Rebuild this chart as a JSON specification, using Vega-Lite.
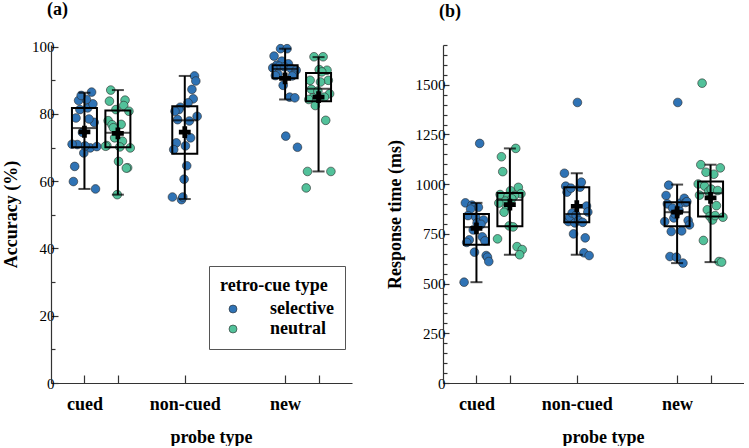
{
"$schema": "https://vega.github.io/schema/vega-lite/v6.json",
"padding": {"left": 2, "top": 0, "right": 0, "bottom": 0},
"spacing": 34,
"config": {
  "view": {"stroke": null},
  "axis": {"labelFontSize": 15, "titleFontSize": 18, "titleFontWeight": "bold", "labelColor": "black", "titleColor": "black", "domainColor": "#333", "tickColor": "#333", "grid": false, "domainWidth": 1.2, "tickWidth": 1.2, "labelOverlap": false, "labelFlush": false}
},
"datasets": {
"accPts": [
{"condition":"cued-selective","cue":"selective","subject":19,"accuracy":57.7},
{"condition":"cued-selective","cue":"selective","subject":2,"accuracy":59.9},
{"condition":"cued-selective","cue":"selective","subject":3,"accuracy":64.4},
{"condition":"cued-selective","cue":"selective","subject":10,"accuracy":68.4},
{"condition":"cued-selective","cue":"selective","subject":15,"accuracy":69.9},
{"condition":"cued-selective","cue":"selective","subject":20,"accuracy":70.3},
{"condition":"cued-selective","cue":"selective","subject":11,"accuracy":70.5},
{"condition":"cued-selective","cue":"selective","subject":5,"accuracy":70.9},
{"condition":"cued-selective","cue":"selective","subject":1,"accuracy":71.0},
{"condition":"cued-selective","cue":"selective","subject":9,"accuracy":74.5},
{"condition":"cued-selective","cue":"selective","subject":18,"accuracy":77.5},
{"condition":"cued-selective","cue":"selective","subject":14,"accuracy":78.5},
{"condition":"cued-selective","cue":"selective","subject":4,"accuracy":78.8},
{"condition":"cued-selective","cue":"selective","subject":7,"accuracy":81.3},
{"condition":"cued-selective","cue":"selective","subject":13,"accuracy":81.8},
{"condition":"cued-selective","cue":"selective","subject":17,"accuracy":83.0},
{"condition":"cued-selective","cue":"selective","subject":6,"accuracy":84.0},
{"condition":"cued-selective","cue":"selective","subject":12,"accuracy":84.3},
{"condition":"cued-selective","cue":"selective","subject":8,"accuracy":85.5},
{"condition":"cued-selective","cue":"selective","subject":16,"accuracy":86.5},
{"condition":"cued-neutral","cue":"neutral","subject":5,"accuracy":87.1},
{"condition":"cued-neutral","cue":"neutral","subject":16,"accuracy":84.1},
{"condition":"cued-neutral","cue":"neutral","subject":4,"accuracy":83.8},
{"condition":"cued-neutral","cue":"neutral","subject":15,"accuracy":82.5},
{"condition":"cued-neutral","cue":"neutral","subject":9,"accuracy":81.3},
{"condition":"cued-neutral","cue":"neutral","subject":19,"accuracy":80.8},
{"condition":"cued-neutral","cue":"neutral","subject":3,"accuracy":78.0},
{"condition":"cued-neutral","cue":"neutral","subject":13,"accuracy":76.9},
{"condition":"cued-neutral","cue":"neutral","subject":6,"accuracy":76.8},
{"condition":"cued-neutral","cue":"neutral","subject":7,"accuracy":75.9},
{"condition":"cued-neutral","cue":"neutral","subject":8,"accuracy":72.9},
{"condition":"cued-neutral","cue":"neutral","subject":14,"accuracy":71.9},
{"condition":"cued-neutral","cue":"neutral","subject":2,"accuracy":70.6},
{"condition":"cued-neutral","cue":"neutral","subject":1,"accuracy":70.4},
{"condition":"cued-neutral","cue":"neutral","subject":12,"accuracy":70.2},
{"condition":"cued-neutral","cue":"neutral","subject":20,"accuracy":69.9},
{"condition":"cued-neutral","cue":"neutral","subject":11,"accuracy":65.9},
{"condition":"cued-neutral","cue":"neutral","subject":18,"accuracy":64.0},
{"condition":"cued-neutral","cue":"neutral","subject":17,"accuracy":63.9},
{"condition":"cued-neutral","cue":"neutral","subject":10,"accuracy":56.0},
{"condition":"non-cued-selective","cue":"selective","subject":18,"accuracy":91.3},
{"condition":"non-cued-selective","cue":"selective","subject":19,"accuracy":89.8},
{"condition":"non-cued-selective","cue":"selective","subject":16,"accuracy":87.3},
{"condition":"non-cued-selective","cue":"selective","subject":17,"accuracy":84.5},
{"condition":"non-cued-selective","cue":"selective","subject":13,"accuracy":83.3},
{"condition":"non-cued-selective","cue":"selective","subject":7,"accuracy":82.0},
{"condition":"non-cued-selective","cue":"selective","subject":6,"accuracy":81.3},
{"condition":"non-cued-selective","cue":"selective","subject":3,"accuracy":80.8},
{"condition":"non-cued-selective","cue":"selective","subject":20,"accuracy":79.3},
{"condition":"non-cued-selective","cue":"selective","subject":5,"accuracy":78.3},
{"condition":"non-cued-selective","cue":"selective","subject":14,"accuracy":77.9},
{"condition":"non-cued-selective","cue":"selective","subject":15,"accuracy":72.9},
{"condition":"non-cued-selective","cue":"selective","subject":4,"accuracy":71.4},
{"condition":"non-cued-selective","cue":"selective","subject":11,"accuracy":70.5},
{"condition":"non-cued-selective","cue":"selective","subject":2,"accuracy":69.4},
{"condition":"non-cued-selective","cue":"selective","subject":12,"accuracy":64.6},
{"condition":"non-cued-selective","cue":"selective","subject":10,"accuracy":60.6},
{"condition":"non-cued-selective","cue":"selective","subject":1,"accuracy":55.3},
{"condition":"non-cued-selective","cue":"selective","subject":8,"accuracy":54.5},
{"condition":"non-cued-selective","cue":"selective","subject":9,"accuracy":55.3},
{"condition":"new-selective","cue":"selective","subject":7,"accuracy":99.4},
{"condition":"new-selective","cue":"selective","subject":12,"accuracy":99.4},
{"condition":"new-selective","cue":"selective","subject":2,"accuracy":97.2},
{"condition":"new-selective","cue":"selective","subject":8,"accuracy":95.7},
{"condition":"new-selective","cue":"selective","subject":13,"accuracy":94.9},
{"condition":"new-selective","cue":"selective","subject":4,"accuracy":94.5},
{"condition":"new-selective","cue":"selective","subject":6,"accuracy":94.2},
{"condition":"new-selective","cue":"selective","subject":10,"accuracy":94.0},
{"condition":"new-selective","cue":"selective","subject":1,"accuracy":93.7},
{"condition":"new-selective","cue":"selective","subject":15,"accuracy":93.5},
{"condition":"new-selective","cue":"selective","subject":19,"accuracy":93.0},
{"condition":"new-selective","cue":"selective","subject":5,"accuracy":91.8},
{"condition":"new-selective","cue":"selective","subject":17,"accuracy":91.6},
{"condition":"new-selective","cue":"selective","subject":3,"accuracy":91.4},
{"condition":"new-selective","cue":"selective","subject":16,"accuracy":91.3},
{"condition":"new-selective","cue":"selective","subject":9,"accuracy":88.5},
{"condition":"new-selective","cue":"selective","subject":14,"accuracy":85.0},
{"condition":"new-selective","cue":"selective","subject":18,"accuracy":84.8},
{"condition":"new-selective","cue":"selective","subject":11,"accuracy":73.4},
{"condition":"new-selective","cue":"selective","subject":20,"accuracy":70.1},
{"condition":"new-neutral","cue":"neutral","subject":7,"accuracy":97.0},
{"condition":"new-neutral","cue":"neutral","subject":14,"accuracy":97.0},
{"condition":"new-neutral","cue":"neutral","subject":11,"accuracy":93.2},
{"condition":"new-neutral","cue":"neutral","subject":17,"accuracy":93.0},
{"condition":"new-neutral","cue":"neutral","subject":13,"accuracy":92.5},
{"condition":"new-neutral","cue":"neutral","subject":4,"accuracy":90.0},
{"condition":"new-neutral","cue":"neutral","subject":18,"accuracy":90.0},
{"condition":"new-neutral","cue":"neutral","subject":12,"accuracy":89.5},
{"condition":"new-neutral","cue":"neutral","subject":5,"accuracy":87.3},
{"condition":"new-neutral","cue":"neutral","subject":10,"accuracy":86.8},
{"condition":"new-neutral","cue":"neutral","subject":19,"accuracy":86.0},
{"condition":"new-neutral","cue":"neutral","subject":15,"accuracy":85.0},
{"condition":"new-neutral","cue":"neutral","subject":6,"accuracy":84.8},
{"condition":"new-neutral","cue":"neutral","subject":3,"accuracy":84.3},
{"condition":"new-neutral","cue":"neutral","subject":9,"accuracy":84.1},
{"condition":"new-neutral","cue":"neutral","subject":8,"accuracy":82.5},
{"condition":"new-neutral","cue":"neutral","subject":16,"accuracy":78.1},
{"condition":"new-neutral","cue":"neutral","subject":2,"accuracy":62.9},
{"condition":"new-neutral","cue":"neutral","subject":20,"accuracy":62.9},
{"condition":"new-neutral","cue":"neutral","subject":1,"accuracy":58.0}
],
"accBox": [
{"condition":"cued-selective","lower":57.7,"q1":70.1,"median":75.8,"q3":81.8,"upper":86.3,"mean":74.7},
{"condition":"cued-neutral","lower":56.0,"q1":70.1,"median":74.4,"q3":81.0,"upper":87.1,"mean":74.2},
{"condition":"non-cued-selective","lower":54.7,"q1":68.2,"median":78.1,"q3":82.3,"upper":91.3,"mean":74.6},
{"condition":"new-selective","lower":84.3,"q1":90.6,"median":93.4,"q3":94.5,"upper":99.4,"mean":90.6},
{"condition":"new-neutral","lower":62.9,"q1":83.8,"median":87.5,"q3":92.2,"upper":96.9,"mean":85.0}
],
"rtPts": [
{"condition":"cued-selective","cue":"selective","subject":13,"rt":1205},
{"condition":"cued-selective","cue":"selective","subject":2,"rt":906},
{"condition":"cued-selective","cue":"selective","subject":7,"rt":895},
{"condition":"cued-selective","cue":"selective","subject":12,"rt":884},
{"condition":"cued-selective","cue":"selective","subject":6,"rt":875},
{"condition":"cued-selective","cue":"selective","subject":4,"rt":842},
{"condition":"cued-selective","cue":"selective","subject":10,"rt":834},
{"condition":"cued-selective","cue":"selective","subject":16,"rt":820},
{"condition":"cued-selective","cue":"selective","subject":11,"rt":805},
{"condition":"cued-selective","cue":"selective","subject":14,"rt":798},
{"condition":"cued-selective","cue":"selective","subject":8,"rt":770},
{"condition":"cued-selective","cue":"selective","subject":15,"rt":735},
{"condition":"cued-selective","cue":"selective","subject":5,"rt":720},
{"condition":"cued-selective","cue":"selective","subject":17,"rt":715},
{"condition":"cued-selective","cue":"selective","subject":3,"rt":707},
{"condition":"cued-selective","cue":"selective","subject":9,"rt":658},
{"condition":"cued-selective","cue":"selective","subject":18,"rt":641},
{"condition":"cued-selective","cue":"selective","subject":19,"rt":633},
{"condition":"cued-selective","cue":"selective","subject":20,"rt":611},
{"condition":"cued-selective","cue":"selective","subject":1,"rt":507},
{"condition":"cued-neutral","cue":"neutral","subject":15,"rt":1180},
{"condition":"cued-neutral","cue":"neutral","subject":4,"rt":1138},
{"condition":"cued-neutral","cue":"neutral","subject":5,"rt":1063},
{"condition":"cued-neutral","cue":"neutral","subject":17,"rt":984},
{"condition":"cued-neutral","cue":"neutral","subject":11,"rt":967},
{"condition":"cued-neutral","cue":"neutral","subject":19,"rt":952},
{"condition":"cued-neutral","cue":"neutral","subject":3,"rt":948},
{"condition":"cued-neutral","cue":"neutral","subject":14,"rt":943},
{"condition":"cued-neutral","cue":"neutral","subject":9,"rt":938},
{"condition":"cued-neutral","cue":"neutral","subject":12,"rt":927},
{"condition":"cued-neutral","cue":"neutral","subject":7,"rt":915},
{"condition":"cued-neutral","cue":"neutral","subject":2,"rt":905},
{"condition":"cued-neutral","cue":"neutral","subject":8,"rt":880},
{"condition":"cued-neutral","cue":"neutral","subject":6,"rt":859},
{"condition":"cued-neutral","cue":"neutral","subject":10,"rt":790},
{"condition":"cued-neutral","cue":"neutral","subject":13,"rt":785},
{"condition":"cued-neutral","cue":"neutral","subject":1,"rt":725},
{"condition":"cued-neutral","cue":"neutral","subject":16,"rt":686},
{"condition":"cued-neutral","cue":"neutral","subject":20,"rt":671},
{"condition":"cued-neutral","cue":"neutral","subject":18,"rt":645},
{"condition":"non-cued-selective","cue":"selective","subject":1,"rt":1055},
{"condition":"non-cued-selective","cue":"selective","subject":2,"rt":990},
{"condition":"non-cued-selective","cue":"selective","subject":3,"rt":960},
{"condition":"non-cued-selective","cue":"selective","subject":4,"rt":812},
{"condition":"non-cued-selective","cue":"selective","subject":5,"rt":835},
{"condition":"non-cued-selective","cue":"selective","subject":6,"rt":980},
{"condition":"non-cued-selective","cue":"selective","subject":7,"rt":855},
{"condition":"non-cued-selective","cue":"selective","subject":8,"rt":750},
{"condition":"non-cued-selective","cue":"selective","subject":9,"rt":805},
{"condition":"non-cued-selective","cue":"selective","subject":10,"rt":845},
{"condition":"non-cued-selective","cue":"selective","subject":11,"rt":1411},
{"condition":"non-cued-selective","cue":"selective","subject":12,"rt":818},
{"condition":"non-cued-selective","cue":"selective","subject":13,"rt":985},
{"condition":"non-cued-selective","cue":"selective","subject":14,"rt":1010},
{"condition":"non-cued-selective","cue":"selective","subject":15,"rt":808},
{"condition":"non-cued-selective","cue":"selective","subject":16,"rt":655},
{"condition":"non-cued-selective","cue":"selective","subject":17,"rt":730},
{"condition":"non-cued-selective","cue":"selective","subject":18,"rt":890},
{"condition":"non-cued-selective","cue":"selective","subject":19,"rt":860},
{"condition":"non-cued-selective","cue":"selective","subject":20,"rt":641},
{"condition":"new-selective","cue":"selective","subject":1,"rt":812},
{"condition":"new-selective","cue":"selective","subject":2,"rt":943},
{"condition":"new-selective","cue":"selective","subject":3,"rt":901},
{"condition":"new-selective","cue":"selective","subject":4,"rt":995},
{"condition":"new-selective","cue":"selective","subject":5,"rt":636},
{"condition":"new-selective","cue":"selective","subject":6,"rt":762},
{"condition":"new-selective","cue":"selective","subject":7,"rt":880},
{"condition":"new-selective","cue":"selective","subject":8,"rt":830},
{"condition":"new-selective","cue":"selective","subject":9,"rt":850},
{"condition":"new-selective","cue":"selective","subject":10,"rt":633},
{"condition":"new-selective","cue":"selective","subject":11,"rt":1411},
{"condition":"new-selective","cue":"selective","subject":12,"rt":868},
{"condition":"new-selective","cue":"selective","subject":13,"rt":905},
{"condition":"new-selective","cue":"selective","subject":14,"rt":765},
{"condition":"new-selective","cue":"selective","subject":15,"rt":603},
{"condition":"new-selective","cue":"selective","subject":16,"rt":929},
{"condition":"new-selective","cue":"selective","subject":17,"rt":908},
{"condition":"new-selective","cue":"selective","subject":18,"rt":912},
{"condition":"new-selective","cue":"selective","subject":19,"rt":817},
{"condition":"new-selective","cue":"selective","subject":20,"rt":795},
{"condition":"new-neutral","cue":"neutral","subject":1,"rt":1001},
{"condition":"new-neutral","cue":"neutral","subject":2,"rt":945},
{"condition":"new-neutral","cue":"neutral","subject":3,"rt":1098},
{"condition":"new-neutral","cue":"neutral","subject":4,"rt":1508},
{"condition":"new-neutral","cue":"neutral","subject":5,"rt":717},
{"condition":"new-neutral","cue":"neutral","subject":6,"rt":990},
{"condition":"new-neutral","cue":"neutral","subject":7,"rt":1060},
{"condition":"new-neutral","cue":"neutral","subject":8,"rt":871},
{"condition":"new-neutral","cue":"neutral","subject":9,"rt":963},
{"condition":"new-neutral","cue":"neutral","subject":10,"rt":838},
{"condition":"new-neutral","cue":"neutral","subject":11,"rt":975},
{"condition":"new-neutral","cue":"neutral","subject":12,"rt":820},
{"condition":"new-neutral","cue":"neutral","subject":13,"rt":1050},
{"condition":"new-neutral","cue":"neutral","subject":14,"rt":842},
{"condition":"new-neutral","cue":"neutral","subject":15,"rt":892},
{"condition":"new-neutral","cue":"neutral","subject":16,"rt":968},
{"condition":"new-neutral","cue":"neutral","subject":17,"rt":611},
{"condition":"new-neutral","cue":"neutral","subject":18,"rt":1082},
{"condition":"new-neutral","cue":"neutral","subject":19,"rt":608},
{"condition":"new-neutral","cue":"neutral","subject":20,"rt":834}
],
"rtBox": [
{"condition":"cued-selective","lower":507,"q1":695,"median":784,"q3":850,"upper":906,"mean":778},
{"condition":"cued-neutral","lower":645,"q1":789,"median":921,"q3":956,"upper":1180,"mean":897},
{"condition":"non-cued-selective","lower":645,"q1":809,"median":850,"q3":984,"upper":1055,"mean":889},
{"condition":"new-selective","lower":603,"q1":789,"median":859,"q3":909,"upper":998,"mean":859},
{"condition":"new-neutral","lower":608,"q1":837,"median":954,"q3":1013,"upper":1098,"mean":931}
]
},
"hconcat": [
{
  "title": {"text": "(a)", "font": "Liberation Serif", "anchor": "start", "frame": "group", "dx": -4, "offset": 21, "fontSize": 18, "fontWeight": "bold", "color": "black"},
  "width": 301, "height": 338,
  "encoding": {
    "x": {"field": "condition", "type": "nominal",
      "scale": {"type": "point", "domain": ["cued-selective","cued-neutral","gap-1","non-cued-selective","gap-2","gap-3","new-selective","new-neutral"], "padding": 1},
      "axis": {"title": "probe type", "titleFont": "Liberation Serif", "labelFont": "Liberation Serif", "titleX": 160, "values": ["cued-selective","cued-neutral","non-cued-selective","new-selective","new-neutral"],
        "labelExpr": "datum.value === 'cued-selective' ? 'cued' : datum.value === 'non-cued-selective' ? 'non-cued' : datum.value === 'new-selective' ? 'new' : ''",
        "labelDx": 16.7, "labelAngle": 0, "labelFontSize": 18, "labelFontWeight": "bold", "tickSize": -8, "labelPadding": 20, "titlePadding": 15, "labelOverlap": false, "labelBound": false}}
  },
  "layer": [
    {"data": {"name": "accPts"},
     "mark": {"type": "circle", "size": 75, "opacity": 1, "stroke": "#2a2a2a", "strokeWidth": 0.6},
     "encoding": {
       "xOffset": {"field": "subject", "type": "nominal", "scale": {"domain": [1,2,3,4,5,6,7,8,9,10,11,12,13,14,15,16,17,18,19,20], "range": [-13, 13]}},
       "y": {"field": "accuracy", "type": "quantitative", "scale": {"domain": [0, 100.5], "nice": false},
         "axis": {"title": "Accuracy (%)", "titleFont": "Liberation Serif", "labelFont": "Liberation Serif", "values": [0,10,20,30,40,50,60,70,80,90,100], "tickCount": 200, "format": "d",
           "labelExpr": "datum.value % 20 === 0 ? datum.label : ''",
           "tickSize": {"condition": {"test": "datum.value % 20 === 0", "value": -7}, "value": -4},
           "labelPadding": 4, "titlePadding": 11, "labelOverlap": false, "labelBound": false}},
       "color": {"field": "cue", "type": "nominal", "scale": {"domain": ["selective","neutral"], "range": ["#2f73b5","#52c19a"]},
         "legend": {"orient": "none", "legendX": 158, "legendY": 221, "title": "retro-cue type", "titleFont": "Liberation Serif", "labelFont": "Liberation Serif", "titleFontSize": 18, "titleFontWeight": "bold", "titleColor": "black",
           "labelFontSize": 18, "labelFontWeight": "bold", "labelColor": "black", "strokeColor": "#555", "padding": 11, "labelOffset": 28, "symbolOffset": 4,
           "symbolSize": 64, "symbolType": "circle", "symbolStrokeColor": "#2a2a2a", "symbolStrokeWidth": 0.6, "rowPadding": 2, "titlePadding": 5}}
     }},
    {"data": {"name": "accBox"}, "mark": {"type": "rule", "color": "black", "strokeWidth": 2},
     "encoding": {"y": {"field": "lower", "type": "quantitative", "scale": {"domain": [0, 100.5], "nice": false}}, "y2": {"field": "upper"}}},
    {"data": {"name": "accBox"}, "mark": {"type": "tick", "color": "black", "size": 12, "thickness": 2, "orient": "horizontal"},
     "encoding": {"y": {"field": "lower", "type": "quantitative", "scale": {"domain": [0, 100.5], "nice": false}}}},
    {"data": {"name": "accBox"}, "mark": {"type": "tick", "color": "black", "size": 12, "thickness": 2, "orient": "horizontal"},
     "encoding": {"y": {"field": "upper", "type": "quantitative", "scale": {"domain": [0, 100.5], "nice": false}}}},
    {"data": {"name": "accBox"}, "mark": {"type": "bar", "size": 25, "fill": "transparent", "stroke": "black", "strokeWidth": 2},
     "encoding": {"y": {"field": "q1", "type": "quantitative", "scale": {"domain": [0, 100.5], "nice": false}}, "y2": {"field": "q3"}}},
    {"data": {"name": "accBox"}, "mark": {"type": "tick", "color": "black", "size": 25, "thickness": 2, "orient": "horizontal"},
     "encoding": {"y": {"field": "median", "type": "quantitative", "scale": {"domain": [0, 100.5], "nice": false}}}},
    {"data": {"name": "accBox"}, "mark": {"type": "point", "shape": "cross", "filled": true, "color": "black", "size": 140, "opacity": 1},
     "encoding": {"y": {"field": "mean", "type": "quantitative", "scale": {"domain": [0, 100.5], "nice": false}}}}
  ]
},
{
  "title": {"text": "(b)", "font": "Liberation Serif", "anchor": "start", "frame": "group", "dx": -4, "offset": 17, "fontSize": 18, "fontWeight": "bold", "color": "black"},
  "width": 301, "height": 338,
  "encoding": {
    "x": {"field": "condition", "type": "nominal",
      "scale": {"type": "point", "domain": ["cued-selective","cued-neutral","gap-1","non-cued-selective","gap-2","gap-3","new-selective","new-neutral"], "padding": 1},
      "axis": {"title": "probe type", "titleFont": "Liberation Serif", "labelFont": "Liberation Serif", "titleX": 160, "values": ["cued-selective","cued-neutral","non-cued-selective","new-selective","new-neutral"],
        "labelExpr": "datum.value === 'cued-selective' ? 'cued' : datum.value === 'non-cued-selective' ? 'non-cued' : datum.value === 'new-selective' ? 'new' : ''",
        "labelDx": 16.7, "labelAngle": 0, "labelFontSize": 18, "labelFontWeight": "bold", "tickSize": -8, "labelPadding": 20, "titlePadding": 15, "labelOverlap": false, "labelBound": false}}
  },
  "layer": [
    {"data": {"name": "rtPts"},
     "mark": {"type": "circle", "size": 75, "opacity": 1, "stroke": "#2a2a2a", "strokeWidth": 0.6},
     "encoding": {
       "xOffset": {"field": "subject", "type": "nominal", "scale": {"domain": [1,2,3,4,5,6,7,8,9,10,11,12,13,14,15,16,17,18,19,20], "range": [-13, 13]}},
       "y": {"field": "rt", "type": "quantitative", "scale": {"domain": [0, 1700], "nice": false},
         "axis": {"title": "Response time (ms)", "titleFont": "Liberation Serif", "labelFont": "Liberation Serif", "values": [0,50,100,150,200,250,300,350,400,450,500,550,600,650,700,750,800,850,900,950,1000,1050,1100,1150,1200,1250,1300,1350,1400,1450,1500,1550,1600,1650,1700], "tickCount": 200, "format": "d",
           "labelExpr": "datum.value % 250 === 0 ? datum.label : ''",
           "tickSize": {"condition": {"test": "datum.value % 250 === 0", "value": -6}, "value": -4},
           "labelPadding": 4, "titlePadding": 11, "labelOverlap": false, "labelBound": false}},
       "color": {"field": "cue", "type": "nominal", "scale": {"domain": ["selective","neutral"], "range": ["#2f73b5","#52c19a"]}, "legend": null}
     }},
    {"data": {"name": "rtBox"}, "mark": {"type": "rule", "color": "black", "strokeWidth": 2},
     "encoding": {"y": {"field": "lower", "type": "quantitative", "scale": {"domain": [0, 1700], "nice": false}}, "y2": {"field": "upper"}}},
    {"data": {"name": "rtBox"}, "mark": {"type": "tick", "color": "black", "size": 12, "thickness": 2, "orient": "horizontal"},
     "encoding": {"y": {"field": "lower", "type": "quantitative", "scale": {"domain": [0, 1700], "nice": false}}}},
    {"data": {"name": "rtBox"}, "mark": {"type": "tick", "color": "black", "size": 12, "thickness": 2, "orient": "horizontal"},
     "encoding": {"y": {"field": "upper", "type": "quantitative", "scale": {"domain": [0, 1700], "nice": false}}}},
    {"data": {"name": "rtBox"}, "mark": {"type": "bar", "size": 25, "fill": "transparent", "stroke": "black", "strokeWidth": 2},
     "encoding": {"y": {"field": "q1", "type": "quantitative", "scale": {"domain": [0, 1700], "nice": false}}, "y2": {"field": "q3"}}},
    {"data": {"name": "rtBox"}, "mark": {"type": "tick", "color": "black", "size": 25, "thickness": 2, "orient": "horizontal"},
     "encoding": {"y": {"field": "median", "type": "quantitative", "scale": {"domain": [0, 1700], "nice": false}}}},
    {"data": {"name": "rtBox"}, "mark": {"type": "point", "shape": "cross", "filled": true, "color": "black", "size": 140, "opacity": 1},
     "encoding": {"y": {"field": "mean", "type": "quantitative", "scale": {"domain": [0, 1700], "nice": false}}}}
  ]
}
],
"resolve": {"scale": {"color": "independent", "y": "independent", "x": "independent"}, "legend": {"color": "independent"}}
}
